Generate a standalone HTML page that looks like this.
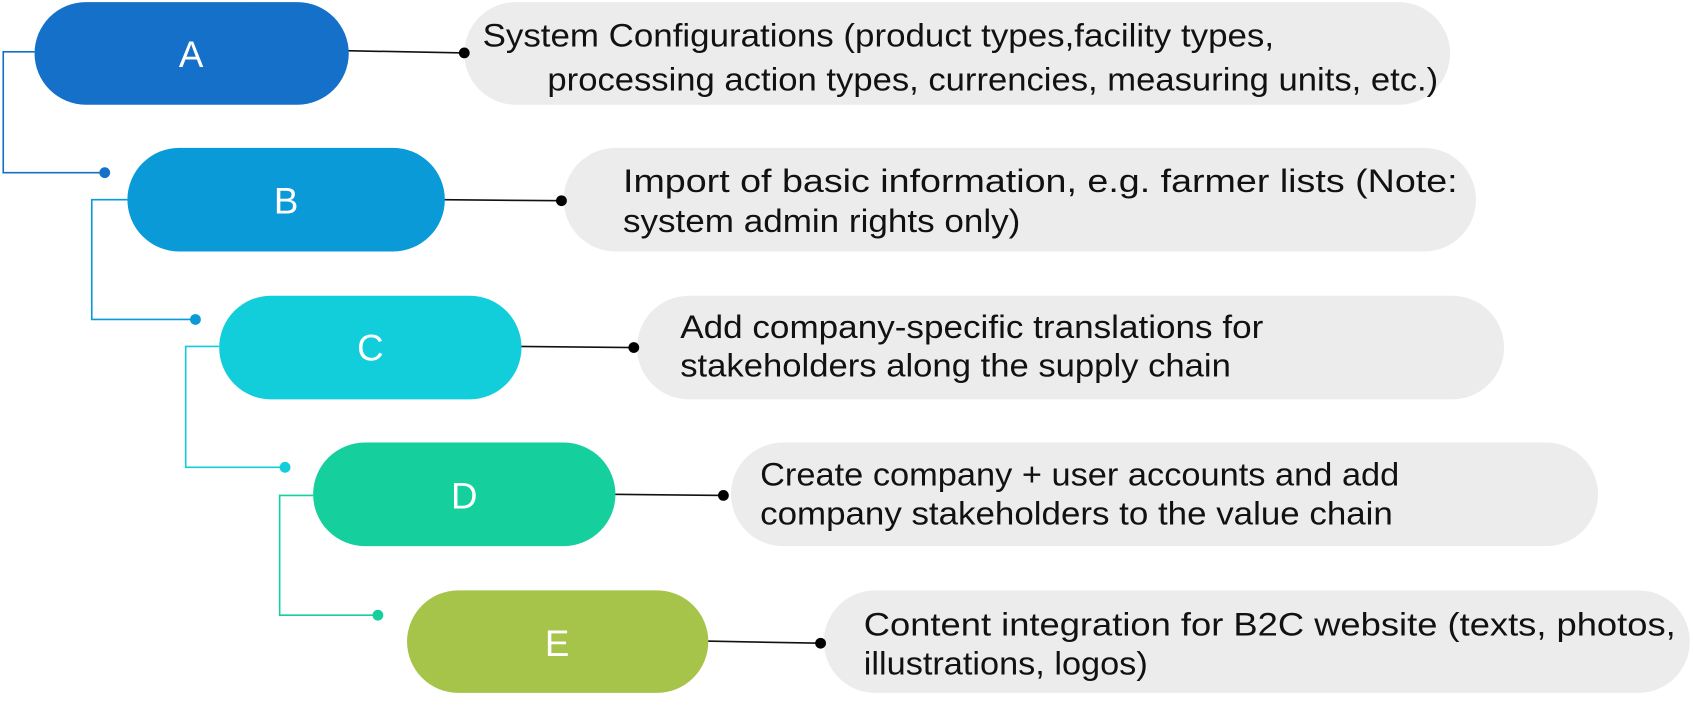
<!DOCTYPE html>
<html><head><meta charset="utf-8"><style>
html,body{margin:0;padding:0;background:#fff;}
svg{display:block;}
text{font-family:"Liberation Sans",sans-serif;}
</style></head><body>
<svg width="1693" height="708" viewBox="0 0 1568 656" preserveAspectRatio="none" xmlns="http://www.w3.org/2000/svg">
<rect x="430" y="2" width="913" height="95" rx="47.5" fill="#ececec"/>
<rect x="522" y="137" width="845" height="96" rx="48" fill="#ececec"/>
<rect x="590" y="274" width="803" height="96" rx="48" fill="#ececec"/>
<rect x="677" y="410" width="803" height="96" rx="48" fill="#ececec"/>
<rect x="763" y="547" width="802" height="95" rx="47.5" fill="#ececec"/>
<g fill="none" stroke-width="1.5">
<polyline points="32,48 3,48 3,160 97,160" stroke="#1470c8"/>
<polyline points="118,185 85,185 85,296 181,296" stroke="#0a9ad8"/>
<polyline points="203,321 172,321 172,433 264,433" stroke="#12cedb"/>
<polyline points="290,459 259,459 259,570 350,570" stroke="#15cf9c"/>
</g>
<circle cx="97" cy="160" r="5" fill="#1470c8"/>
<circle cx="181" cy="296" r="5" fill="#0a9ad8"/>
<circle cx="264" cy="433" r="5" fill="#12cedb"/>
<circle cx="350" cy="570" r="5" fill="#15cf9c"/>
<g stroke="#111" stroke-width="1.5">
<line x1="320" y1="47" x2="430" y2="49"/>
<line x1="410" y1="185" x2="520" y2="186"/>
<line x1="480" y1="321" x2="587" y2="322"/>
<line x1="568" y1="458" x2="670" y2="459"/>
<line x1="654" y1="594" x2="760" y2="596"/>
</g>
<g fill="#000">
<circle cx="430" cy="49" r="5"/>
<circle cx="520" cy="186" r="5"/>
<circle cx="587" cy="322" r="5"/>
<circle cx="670" cy="459" r="5"/>
<circle cx="760" cy="596" r="5"/>
</g>
<rect x="32" y="2" width="291" height="95" rx="47.5" fill="#1470c8"/>
<rect x="118" y="137" width="294" height="96" rx="48" fill="#0a9ad8"/>
<rect x="203" y="274" width="280" height="96" rx="48" fill="#12cedb"/>
<rect x="290" y="410" width="280" height="96" rx="48" fill="#15cf9c"/>
<rect x="377" y="547" width="279" height="95" rx="47.5" fill="#a6c34a"/>
<g fill="#fff" font-size="34" text-anchor="middle">
<text x="177" y="62">A</text>
<text x="265" y="198">B</text>
<text x="343" y="334">C</text>
<text x="430" y="471">D</text>
<text x="516" y="608">E</text>
</g>
<g fill="#111" font-size="30">
<text x="447" y="43" textLength="733" lengthAdjust="spacingAndGlyphs">System Configurations (product types,facility types,</text>
<text x="507" y="84" textLength="825" lengthAdjust="spacingAndGlyphs">processing action types, currencies, measuring units, etc.)</text>
<text x="577" y="178" textLength="773" lengthAdjust="spacingAndGlyphs">Import of basic information, e.g. farmer lists (Note:</text>
<text x="577" y="215" textLength="368" lengthAdjust="spacingAndGlyphs">system admin rights only)</text>
<text x="630" y="313" textLength="540" lengthAdjust="spacingAndGlyphs">Add company-specific translations for</text>
<text x="630" y="349" textLength="510" lengthAdjust="spacingAndGlyphs">stakeholders along the supply chain</text>
<text x="704" y="450" textLength="592" lengthAdjust="spacingAndGlyphs">Create company + user accounts and add</text>
<text x="704" y="486" textLength="586" lengthAdjust="spacingAndGlyphs">company stakeholders to the value chain</text>
<text x="800" y="589" textLength="752" lengthAdjust="spacingAndGlyphs">Content integration for B2C website (texts, photos,</text>
<text x="800" y="625" textLength="263" lengthAdjust="spacingAndGlyphs">illustrations, logos)</text>
</g>
</svg>
</body></html>
